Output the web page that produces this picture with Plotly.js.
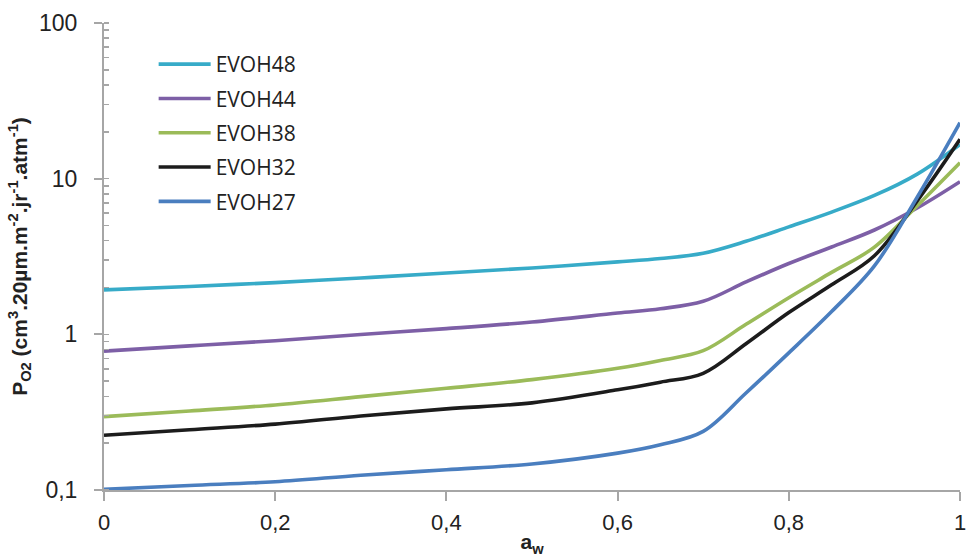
<!DOCTYPE html>
<html>
<head>
<meta charset="utf-8">
<script src="https://cdn.plot.ly/plotly-3.0.1.min.js"></script>
<style>html,body{margin:0;padding:0;background:#fff;}#chart{width:968px;height:560px;}</style>
</head>
<body>
<div id="chart"></div>
<script>
var aw = [0, 0.1, 0.2, 0.3, 0.4, 0.5, 0.6, 0.65, 0.7, 0.75, 0.8, 0.85, 0.9, 0.95, 1];
var evoh48 = [1.93, 2.03, 2.15, 2.30, 2.48, 2.67, 2.92, 3.07, 3.32, 3.96, 4.9, 6.1, 7.8, 10.7, 16.6];
var evoh44 = [0.78, 0.843, 0.91, 0.998, 1.088, 1.20, 1.37, 1.46, 1.63, 2.17, 2.85, 3.64, 4.68, 6.48, 9.56];
var evoh38 = [0.296, 0.322, 0.352, 0.398, 0.450, 0.512, 0.605, 0.68, 0.785, 1.16, 1.72, 2.50, 3.63, 6.7, 12.67];
var evoh32 = [0.225, 0.244, 0.265, 0.299, 0.332, 0.363, 0.44, 0.493, 0.562, 0.87, 1.38, 2.08, 3.2, 7.2, 17.9];
var evoh27 = [0.101, 0.107, 0.113, 0.1245, 0.135, 0.147, 0.1726, 0.1954, 0.238, 0.42, 0.76, 1.40, 2.75, 7.6, 22.9];

var names = ['EVOH48', 'EVOH44', 'EVOH38', 'EVOH32', 'EVOH27'];
var series = [evoh48, evoh44, evoh38, evoh32, evoh27];
var colors = ['#37abc8', '#7d5fa6', '#9bbb59', '#1c1c1c', '#4a7ebf'];

var traces = series.map(function (ys, i) {
  return {
    x: aw, y: ys, name: names[i], type: 'scatter', mode: 'lines',
    legendgroup: names[i],
    line: {color: colors[i], width: 3.6, shape: 'spline', smoothing: 1}
  };
});

var axisGrey = '#a6a6a6';
var layout = {
  width: 968, height: 560,
  margin: {l: 104, r: 8, t: 23, b: 70},
  paper_bgcolor: '#fff', plot_bgcolor: '#fff',
  separators: ',.',
  showlegend: true,
  legend: {
    x: 0.058, y: 0.955, xanchor: 'left', yanchor: 'top',
    font: {family: 'Open Sans, Liberation Sans, sans-serif', size: 21, color: '#222'},
    tracegroupgap: 4, bgcolor: 'rgba(0,0,0,0)', itemwidth: 52
  },
  xaxis: {
    range: [0, 1], dtick: 0.2, tick0: 0,
    showgrid: false, zeroline: false,
    showline: true, linecolor: axisGrey, linewidth: 2,
    ticks: 'outside', ticklen: 9, tickwidth: 2, tickcolor: axisGrey,
    ticklabelstandoff: 3,
    tickfont: {family: 'Liberation Sans, sans-serif', size: 22, color: '#222'},
    title: {text: '<b>a<sub>w</sub></b>', font: {family: 'Liberation Sans, sans-serif', size: 21, color: '#222'}, standoff: 0}
  },
  yaxis: {
    type: 'log', range: [-1, 2], dtick: 1,
    showgrid: false, zeroline: false,
    showline: true, linecolor: axisGrey, linewidth: 2,
    ticks: 'outside', ticklen: 8, tickwidth: 2, tickcolor: axisGrey,
    ticklabelstandoff: 12,
    minor: {ticks: 'inside', ticklen: 5, tickwidth: 1.5, tickcolor: axisGrey, dtick: 'D1', showgrid: false},
    tickfont: {family: 'Liberation Sans, sans-serif', size: 23, color: '#222'},
    title: {text: '<b>P<sub>O2</sub> (cm<sup>3</sup>.20µm.m<sup>-2</sup>.jr<sup>-1</sup>.atm<sup>-1</sup>)</b>',
            font: {family: 'Liberation Sans, sans-serif', size: 21, color: '#222'}, standoff: 6}
  }
};

Plotly.newPlot('chart', traces, layout, {displayModeBar: false, staticPlot: true});
</script>
</body>
</html>
